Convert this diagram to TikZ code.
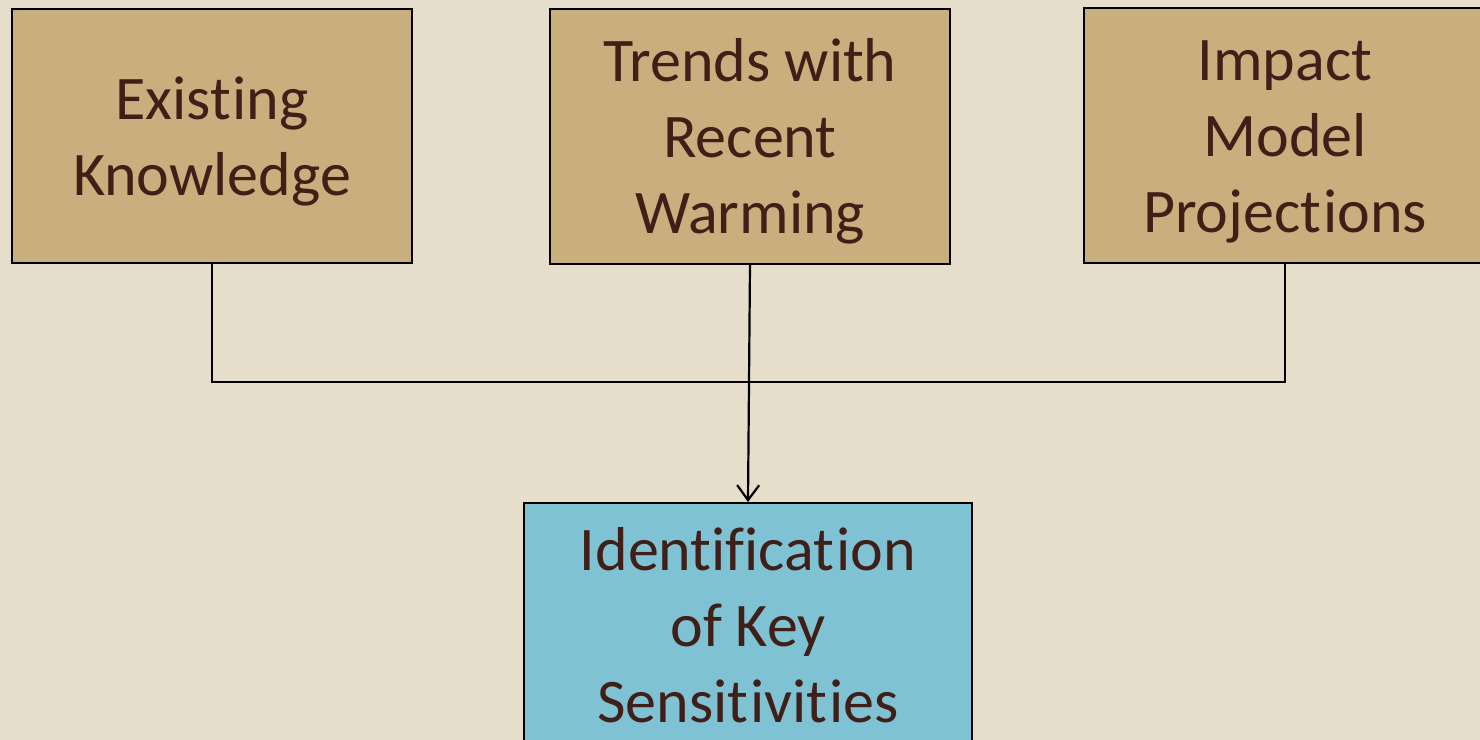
\documentclass[tikz,border=0pt]{standalone}
\usepackage{fontspec}
\setmainfont{Carlito}[Ligatures=NoCommon]
\usetikzlibrary{arrows.meta}
\definecolor{bgcream}{HTML}{E6DECA}
\definecolor{boxtan}{HTML}{C8AF7D}
\definecolor{boxblue}{HTML}{7FC2D4}
\definecolor{txtbrown}{HTML}{3F1F17}
% box text, set a little below the middle
\newcommand{\boxlines}[1]{\raisebox{-3pt}[\height][\depth]{\begin{tabular}{@{}c@{}}#1\end{tabular}}}
% keep t and i apart
\newcommand{\tsep}{t\kern1pt}
\tikzset{
  stagebox/.style={draw=black, line width=1pt, fill=boxtan, text=txtbrown,
    inner sep=0pt, font=\fontsize{31}{38}\selectfont},
  resultbox/.style={stagebox, fill=boxblue},
  link/.style={draw=black, line width=1.1pt}
}
\begin{document}
\begin{tikzpicture}[x=0.5pt,y=-0.5pt]
    \fill[bgcream] (0,0) rectangle (1480,740);
    \useasboundingbox (0,0) rectangle (1480,740);
    \begin{scope}
    \node[stagebox, minimum width=200pt, minimum height=127pt] (know) at (212,136) {\boxlines{Exis\tsep ing\\Knowledge}};
    \node[stagebox, minimum width=200pt, minimum height=127.5pt] (trend) at (750,136.5) {\boxlines{Trends with\\Recent\\Warming}};
    \node[stagebox, minimum width=201pt, minimum height=127.5pt] (impact) at (1285,135.5) {\boxlines{Impact\\Model\\Projec\tsep ions}};
    \node[resultbox, minimum width=224pt, minimum height=122pt] (ident) at (748,625) {\boxlines{Identifica\tsep ion\\of Key\\Sensi\tsep ivi\tsep ies}};
    \end{scope}
    \coordinate (join) at (748,382);
    \draw[link] (know.south) |- (join) -| (impact.south);
    \draw[link,-{Straight Barb[length=7.5pt,width=11pt]}] (trend.south) -- (ident.north);
\end{tikzpicture}
\end{document}
